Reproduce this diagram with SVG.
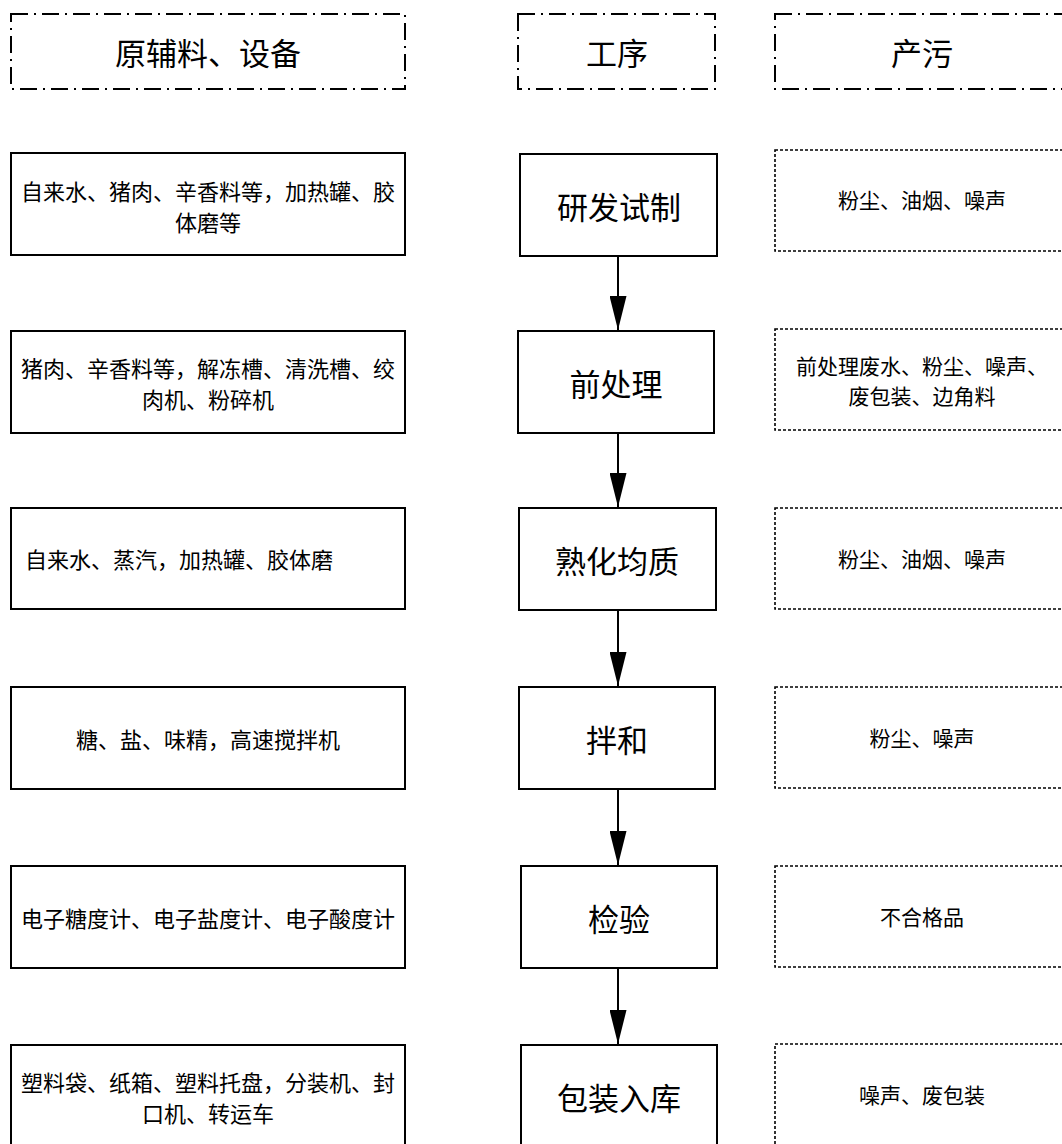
<svg xmlns="http://www.w3.org/2000/svg" width="1062" height="1144" viewBox="0 0 1062 1144">
<style>
text{font-family:"Noto Sans CJK SC","Liberation Sans",sans-serif;fill:#000;text-anchor:middle;dominant-baseline:central}
.hdr{fill:#fff;stroke:#000;stroke-width:2;stroke-dasharray:17 6 2 6}
.solid{fill:#fff;stroke:#000;stroke-width:2}
.dot{fill:#fff;stroke:#000;stroke-width:1.6;stroke-dasharray:3 2}
.big{font-size:31px}
.mid{font-size:22px}
.sm{font-size:21px}
.conn{stroke:#000;stroke-width:2;fill:none}
</style>
<defs>
<marker id="ah" markerWidth="34" markerHeight="17" refX="34" refY="8.5" orient="auto" markerUnits="userSpaceOnUse" viewBox="0 0 34 17">
<path d="M0,0 L34,8.5 L0,17 Z" fill="#000"/>
</marker>
</defs>
<rect width="1062" height="1144" fill="#fff"/>

<g id="hdr-materials"><rect class="hdr" x="11" y="14" width="394" height="75"/><text class="big" x="208" y="51">原辅料、设备</text></g>
<g id="hdr-process"><rect class="hdr" x="518" y="14" width="197" height="75"/><text class="big" x="617" y="51">工序</text></g>
<g id="hdr-pollution"><rect class="hdr" x="775" y="14" width="300" height="75"/><text class="big" x="922" y="51">产污</text></g>

<g id="m1"><rect class="solid" x="11" y="153" width="394" height="102"/><text class="mid" x="208" y="190">自来水、猪肉、辛香料等，加热罐、胶</text><text class="mid" x="208" y="221">体磨等</text></g>
<g id="m2"><rect class="solid" x="11" y="331" width="394" height="102"/><text class="mid" x="208" y="367">猪肉、辛香料等，解冻槽、清洗槽、绞</text><text class="mid" x="208" y="398">肉机、粉碎机</text></g>
<g id="m3"><rect class="solid" x="11" y="508" width="394" height="101"/><text class="mid" x="25" y="558" style="text-anchor:start">自来水、蒸汽，加热罐、胶体磨</text></g>
<g id="m4"><rect class="solid" x="11" y="687" width="394" height="102"/><text class="mid" x="208" y="738">糖、盐、味精，高速搅拌机</text></g>
<g id="m5"><rect class="solid" x="11" y="866" width="394" height="102"/><text class="mid" x="208" y="917">电子糖度计、电子盐度计、电子酸度计</text></g>
<g id="m6"><rect class="solid" x="11" y="1045" width="394" height="110"/><text class="mid" x="208" y="1081">塑料袋、纸箱、塑料托盘，分装机、封</text><text class="mid" x="208" y="1112">口机、转运车</text></g>

<g id="p1"><rect class="solid" x="520" y="154" width="197" height="102"/><text class="big" x="619" y="205">研发试制</text></g>
<g id="p2"><rect class="solid" x="518" y="331" width="196" height="102"/><text class="big" x="616" y="382">前处理</text></g>
<g id="p3"><rect class="solid" x="519" y="508" width="197" height="102"/><text class="big" x="617" y="559">熟化均质</text></g>
<g id="p4"><rect class="solid" x="519" y="687" width="196" height="102"/><text class="big" x="617" y="738">拌和</text></g>
<g id="p5"><rect class="solid" x="521" y="866" width="196" height="102"/><text class="big" x="619" y="917">检验</text></g>
<g id="p6"><rect class="solid" x="521" y="1045" width="196" height="110"/><text class="big" x="619" y="1096">包装入库</text></g>

<g id="o1"><rect class="dot" x="775" y="150" width="300" height="101"/><text class="sm" x="922" y="199">粉尘、油烟、噪声</text></g>
<g id="o2"><rect class="dot" x="775" y="329" width="300" height="101"/><text class="sm" x="922" y="365">前处理废水、粉尘、噪声、</text><text class="sm" x="922" y="395">废包装、边角料</text></g>
<g id="o3"><rect class="dot" x="775" y="508" width="300" height="101"/><text class="sm" x="922" y="558">粉尘、油烟、噪声</text></g>
<g id="o4"><rect class="dot" x="775" y="687" width="300" height="101"/><text class="sm" x="922" y="737">粉尘、噪声</text></g>
<g id="o5"><rect class="dot" x="775" y="866" width="300" height="101"/><text class="sm" x="922" y="916">不合格品</text></g>
<g id="o6"><rect class="dot" x="775" y="1044" width="300" height="110"/><text class="sm" x="922" y="1094">噪声、废包装</text></g>

<g id="connectors">
<line class="conn" x1="618" y1="256" x2="618" y2="330" marker-end="url(#ah)"/>
<line class="conn" x1="618" y1="433" x2="618" y2="507" marker-end="url(#ah)"/>
<line class="conn" x1="618" y1="610" x2="618" y2="686" marker-end="url(#ah)"/>
<line class="conn" x1="618" y1="789" x2="618" y2="865" marker-end="url(#ah)"/>
<line class="conn" x1="618" y1="968" x2="618" y2="1044" marker-end="url(#ah)"/>
</g>
</svg>
